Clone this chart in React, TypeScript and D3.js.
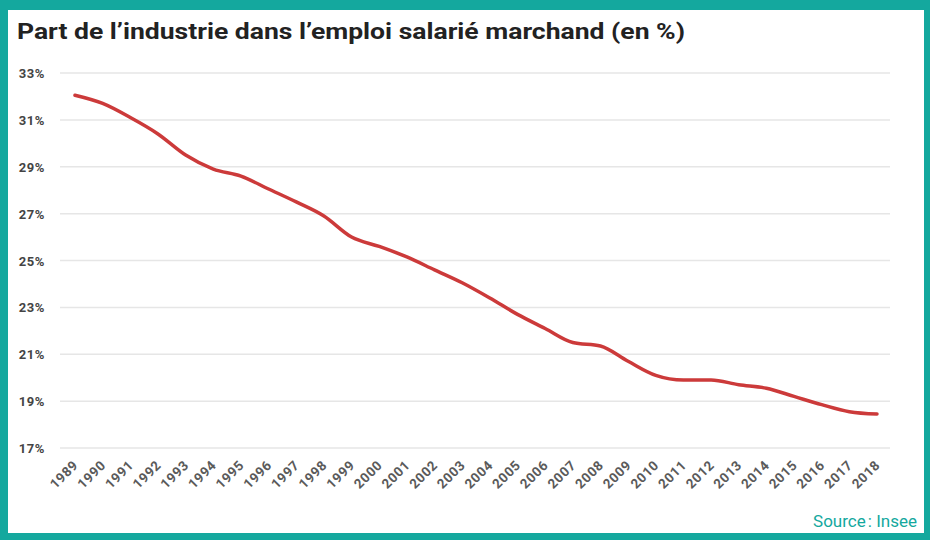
import React, { useEffect, useRef } from 'react';
import * as d3 from 'd3';

const years = [
  1989, 1990, 1991, 1992, 1993, 1994, 1995, 1996, 1997, 1998,
  1999, 2000, 2001, 2002, 2003, 2004, 2005, 2006, 2007, 2008,
  2009, 2010, 2011, 2012, 2013, 2014, 2015, 2016, 2017, 2018,
];
const shares = [
  32.05, 31.7, 31.1, 30.4, 29.5, 28.9, 28.6, 28.05, 27.5, 26.9,
  26.0, 25.6, 25.15, 24.6, 24.05, 23.4, 22.7, 22.1, 21.5, 21.35,
  20.7, 20.1, 19.9, 19.9, 19.7, 19.55, 19.2, 18.85, 18.55, 18.45,
];
const yTicks = [17, 19, 21, 23, 25, 27, 29, 31, 33];

const TEAL = '#14a89e';

export default function App() {
  const ref = useRef<SVGSVGElement>(null);

  useEffect(() => {
    const svg = d3.select(ref.current);
    svg.selectAll('*').remove();

    const width = 930;
    const height = 540;

    // cadre
    svg.append('rect').attr('width', width).attr('height', height).attr('fill', TEAL);
    svg.append('rect').attr('x', 8).attr('y', 10).attr('width', 916).attr('height', 523).attr('fill', '#fff');

    svg.append('text')
      .attr('x', 17).attr('y', 39)
      .attr('font-family', 'Roboto, sans-serif')
      .attr('font-weight', 700)
      .attr('font-size', 22)
      .attr('textLength', 668)
      .attr('lengthAdjust', 'spacingAndGlyphs')
      .attr('fill', '#222')
      .text('Part de l\u2019industrie dans l\u2019emploi salarié marchand (en %)');

    const x = d3.scalePoint<number>().domain(years).range([75, 877]);
    const y = d3.scaleLinear().domain([17, 33]).range([448, 73]);

    const grid = svg.append('g');
    grid.selectAll('line')
      .data(yTicks)
      .join('line')
      .attr('x1', 60).attr('x2', 890)
      .attr('y1', d => y(d)).attr('y2', d => y(d))
      .attr('stroke', '#e6e6e6')
      .attr('stroke-width', 1.5);

    grid.selectAll('text')
      .data(yTicks)
      .join('text')
      .attr('x', 45)
      .attr('y', d => y(d) + 5)
      .attr('text-anchor', 'end')
      .attr('font-family', 'Roboto, sans-serif')
      .attr('font-weight', 700)
      .attr('font-size', 13)
      .attr('letter-spacing', 0.6)
      .attr('fill', '#444')
      .text(d => `${d}%`);

    svg.append('g')
      .selectAll('text')
      .data(years)
      .join('text')
      .attr('transform', d => `translate(${(x(d) ?? 0) + 4},${466}) rotate(-45)`)
      .attr('text-anchor', 'end')
      .attr('font-family', 'Roboto, sans-serif')
      .attr('font-weight', 700)
      .attr('font-size', 13.5)
      .attr('letter-spacing', 0.6)
      .attr('fill', '#5a5a5a')
      .text(d => d);

    const line = d3.line<number>()
      .x((_, i) => x(years[i]) ?? 0)
      .y(d => y(d))
      .curve(d3.curveMonotoneX);

    svg.append('path')
      .datum(shares)
      .attr('d', line)
      .attr('fill', 'none')
      .attr('stroke', '#cc3a3a')
      .attr('stroke-width', 3.5)
      .attr('stroke-linejoin', 'round')
      .attr('stroke-linecap', 'round');

    svg.append('text')
      .attr('x', 917).attr('y', 527)
      .attr('text-anchor', 'end')
      .attr('font-family', 'Roboto, sans-serif')
      .attr('font-size', 17)
      .attr('fill', TEAL)
      .text('Source\u202F: Insee');
  }, []);

  return (
    <svg ref={ref} width={930} height={540} style={{ display: 'block', position: 'absolute', left: 0, top: 0 }} />
  );
}
